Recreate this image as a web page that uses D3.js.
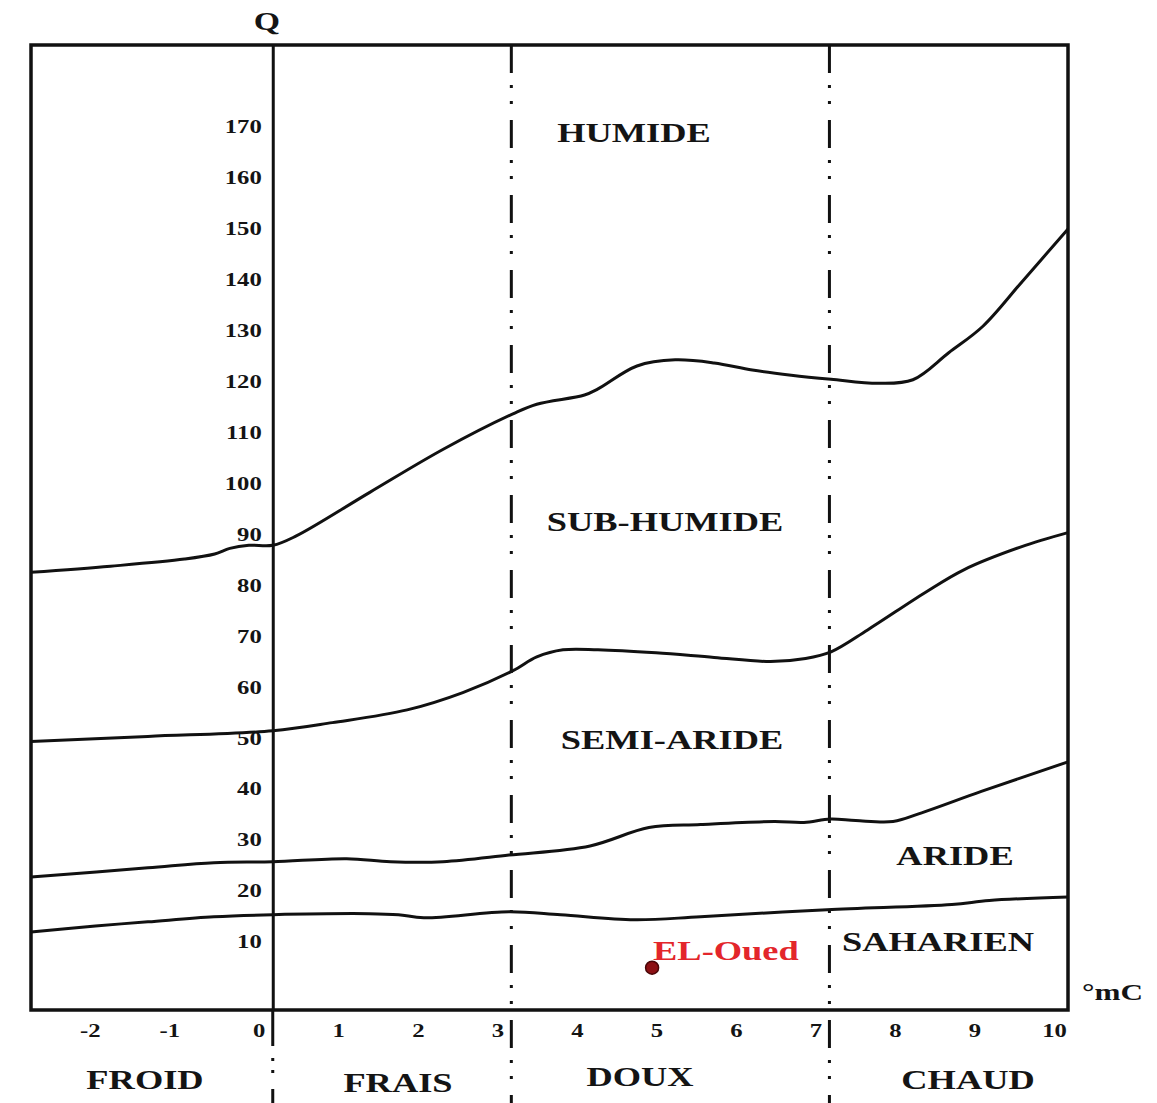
<!DOCTYPE html>
<html>
<head>
<meta charset="utf-8">
<script src="https://cdn.jsdelivr.net/npm/d3@7"></script>
<style>
  html, body { margin: 0; padding: 0; background: #fff; }
  svg { display: block; }
  text { font-family: "Liberation Serif", "DejaVu Serif", serif; font-weight: bold; fill: #141414; }
</style>
</head>
<body>
<div id="climagramme"></div>
<script>
// Climagramme d'Emberger : Q2 en fonction de m (°C)
const qTicks = [10, 20, 30, 40, 50, 60, 70, 80, 90, 100, 110, 120, 130, 140, 150, 160, 170];
const mTicks = [-2, -1, 0, 1, 2, 3, 4, 5, 6, 7, 8, 9, 10];
const winterBounds = [3, 7];

const floorNames = ["HUMIDE", "SUB-HUMIDE", "SEMI-ARIDE", "ARIDE", "SAHARIEN"];
const winterNames = ["FROID", "FRAIS", "DOUX", "CHAUD"];

// limites entre étages [m, Q]
const limitHumide = [[-3.04, 82.5], [-2.04, 83.7], [-1.11, 85.1], [-0.73, 86.1], [-0.54, 87.2], [-0.3, 87.8], [0, 87.8],
  [0.29, 89.6], [1.22, 98.2], [2.15, 106.7], [3.02, 113.6], [3.32, 115.5], [3.92, 117.3], [4.09, 118.5], [4.58, 123.0],
  [5.06, 124.2], [5.55, 123.6], [6.03, 122.2], [6.52, 121.2], [7.02, 120.4], [7.62, 119.6], [8.05, 120.3], [8.5, 125.6],
  [8.93, 130.8], [9.42, 139.5], [10, 149.9]];
const limitSubHumide = [[-3.04, 49.3], [-1.57, 50.3], [0, 51.4], [0.75, 53.0], [1.69, 55.5], [2.39, 58.9], [3.02, 63.2],
  [3.32, 65.9], [3.65, 67.3], [4.09, 67.3], [4.82, 66.7], [5.55, 65.8], [6.26, 65.0], [6.70, 65.6], [7.02, 66.9],
  [7.48, 71.2], [8.20, 78.5], [8.69, 83.0], [9.41, 87.5], [10, 90.3]];
const limitSemiAride = [[-3.04, 22.7], [-1.57, 24.5], [-0.74, 25.5], [0, 25.7], [0.93, 26.3], [1.48, 25.7], [2.14, 25.7],
  [2.97, 27.0], [3.99, 28.8], [4.73, 32.4], [5.38, 33.0], [6.31, 33.6], [6.68, 33.4], [7.01, 34.1], [7.33, 33.8],
  [7.80, 33.6], [8.16, 35.3], [8.91, 39.5], [10, 45.3]];
const limitAride = [[-3.04, 11.9], [-2.23, 13.1], [-1.57, 13.9], [-0.74, 14.9], [0, 15.3], [1.21, 15.5], [1.58, 15.3],
  [1.90, 14.7], [2.97, 15.9], [3.62, 15.3], [4.55, 14.3], [5.38, 14.9], [6.97, 16.3], [8.54, 17.3], [9.01, 18.1], [10, 18.8]];

const stations = [{ name: "EL-Oued", m: 4.77, q: 4.9 }];

const width = 1157;
const height = 1103;
const box = { left: 31, right: 1068, top: 45, bottom: 1010 };
const sx = 1.3; // picture is stretched horizontally
const dashDot = "28,12,3,13,3,16";

const svg = d3.select("#climagramme").append("svg")
    .attr("width", width)
    .attr("height", height);

const x = d3.scaleLinear().domain([-3.04, 10]).range([box.left, box.right]);
const y = d3.scaleLinear().domain([-3.4, 186]).range([box.bottom, box.top]);

const line = d3.line()
    .x(d => x(d[0]))
    .y(d => y(d[1]))
    .curve(d3.curveCatmullRom.alpha(0.5));

function label(str, px, py, size, anchor, color) {
    return svg.append("text")
        .attr("transform", `translate(${px},${py}) scale(${sx},1)`)
        .attr("text-anchor", anchor || "middle")
        .style("font-size", size + "px")
        .style("fill", color || "#141414")
        .text(str);
}

// cadre
svg.append("rect")
    .attr("x", box.left)
    .attr("y", box.top)
    .attr("width", box.right - box.left)
    .attr("height", box.bottom - box.top)
    .attr("fill", "none")
    .attr("stroke", "#111")
    .attr("stroke-width", 3.5);

// limites des variantes d'hiver
svg.selectAll(".winter-bound")
    .data(winterBounds)
    .enter().append("line")
    .attr("class", "winter-bound")
    .attr("x1", d => x(d)).attr("x2", d => x(d))
    .attr("y1", box.top).attr("y2", height)
    .attr("stroke", "#111")
    .attr("stroke-width", 3)
    .attr("stroke-dasharray", dashDot);

// axe Q (m = 0)
const yAxis = svg.append("g")
    .attr("transform", `translate(${x(0)},0)`)
    .call(d3.axisLeft(y).tickValues(qTicks).tickSize(0).tickSizeOuter(0).tickPadding(0));
yAxis.select(".domain").attr("stroke", "#111").attr("stroke-width", 3);
yAxis.selectAll(".tick text")
    .attr("x", -11 / sx)
    .attr("transform", `scale(${sx},1)`)
    .style("font-size", "19px")
    .style("font-family", null);

svg.append("line")
    .attr("x1", x(0)).attr("x2", x(0))
    .attr("y1", box.bottom).attr("y2", height)
    .attr("stroke", "#111")
    .attr("stroke-width", 3)
    .attr("stroke-dasharray", "36,12,3,9,3,16,28,12,3,13,3,16");

// axe m
const xAxis = svg.append("g")
    .attr("transform", `translate(0,${box.bottom})`)
    .call(d3.axisBottom(x).tickValues(mTicks).tickFormat(d => String(d))
        .tickSize(0).tickSizeOuter(0).tickPadding(14));
xAxis.select(".domain").remove();
xAxis.selectAll(".tick text")
    .attr("x", d => (d < 0 ? -24 : -14) / sx)
    .attr("transform", `scale(${sx},1)`)
    .style("font-size", "19px")
    .style("font-family", null);

svg.selectAll("text").style("fill", "#141414");

// courbes limites
svg.selectAll(".limit")
    .data([limitHumide, limitSubHumide, limitSemiAride, limitAride])
    .enter().append("path")
    .attr("class", "limit")
    .attr("d", line)
    .attr("fill", "none")
    .attr("stroke", "#111")
    .attr("stroke-width", 3);

// étages bioclimatiques
label(floorNames[0], 634, 142, 28);
label(floorNames[1], 665, 531, 28);
label(floorNames[2], 672, 749, 28);
label(floorNames[3], 955, 865, 28);
label(floorNames[4], 938, 951, 28);

// variantes thermiques
label(winterNames[0], 145, 1089, 28);
label(winterNames[1], 398, 1092, 28);
label(winterNames[2], 640, 1086, 28);
label(winterNames[3], 968, 1089, 28);

// titres des axes
label("Q", 267, 30, 26);
label("°mC", 1082, 1000, 24, "start");

// station
svg.selectAll(".station")
    .data(stations)
    .enter().append("circle")
    .attr("class", "station")
    .attr("cx", d => x(d.m))
    .attr("cy", d => y(d.q))
    .attr("r", 6.5)
    .attr("fill", "#8c1014")
    .attr("stroke", "#4a0608")
    .attr("stroke-width", 1.5);

stations.forEach(d => label(d.name, x(d.m) + 1, y(d.q) - 8, 28, "start", "#e3262b"));
</script>
</body>
</html>
